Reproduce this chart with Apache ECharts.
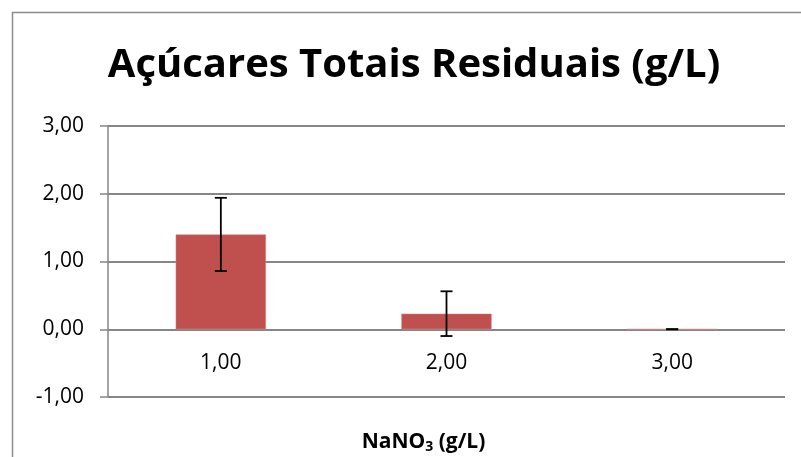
<!DOCTYPE html>
<html>
<head>
<meta charset="utf-8">
<script src="https://cdn.jsdelivr.net/npm/echarts@6/dist/echarts.min.js"></script>
<style>
  html, body { margin: 0; padding: 0; background: #fff; }
  #main { width: 801px; height: 457px; }
</style>
</head>
<body>
<div id="main"></div>
<script>
// dados do gráfico
var categorias = ['1,00', '2,00', '3,00'];
var valores = [1.40, 0.23, 0.00];
var erros = [0.54, 0.33, 0.00];
var yTicks = [-1, 0, 1, 2, 3];

var chart = echarts.init(document.getElementById('main'));

function virgula(v) {
    return v.toFixed(2).replace('.', ',');
}

var option = {
    animation: false,
    title: {
        text: 'Açúcares Totais Residuais (g/L)',
        left: 409,
        textAlign: 'center',
        top: 41,
        textStyle: {
            fontFamily: 'Open Sans',
            fontWeight: 'bold',
            fontSize: 40,
            color: '#000'
        }
    },
    graphic: [{
        type: 'rect',
        shape: {x: 12.5, y: 12.5, width: 820, height: 480},
        style: {fill: 'none', stroke: '#8c8c8c', lineWidth: 1.5},
        silent: true,
        z: -1
    }],
    grid: {
        left: 108,
        right: 16,
        top: 126,
        bottom: 60,
        containLabel: false,
        outerBoundsMode: 'none'
    },
    xAxis: {
        type: 'category',
        data: categorias,
        axisLine: {show: false, onZero: false},
        axisTick: {show: false},
        axisLabel: {
            fontFamily: 'Open Sans',
            fontSize: 21,
            color: '#000',
            margin: -44
        },
        name: '{b|NaNO}{s|3}{b| (g/L)}',
        nameLocation: 'middle',
        nameGap: 34,
        nameTextStyle: {
            padding: [0, 46, 0, 0],
            rich: {
                b: {fontFamily: 'Open Sans', fontWeight: 'bold', fontSize: 21, color: '#000'},
                s: {fontFamily: 'Open Sans', fontWeight: 'bold', fontSize: 14, color: '#000', verticalAlign: 'bottom', padding: [9, 0, 0, 0]}
            }
        }
    },
    yAxis: {
        type: 'value',
        min: yTicks[0],
        max: yTicks[yTicks.length - 1],
        interval: 1,
        axisLine: {show: true, lineStyle: {color: '#868686', width: 1.5}},
        axisTick: {show: true, length: 8, lineStyle: {color: '#868686', width: 1.5}},
        axisLabel: {
            fontFamily: 'Open Sans',
            fontSize: 21,
            color: '#000',
            margin: 24,
            formatter: function (v) { return virgula(v); }
        },
        splitLine: {lineStyle: {color: '#868686', width: 1.8}}
    },
    series: [{
        type: 'bar',
        data: valores,
        barWidth: '40%',
        itemStyle: {color: '#C0504D', borderColor: '#d98a88', borderWidth: 0.5}
    }, {
        type: 'custom',
        data: valores.map(function (v, i) { return [i, v - erros[i], v + erros[i]]; }),
        renderItem: function (params, api) {
            var x = api.coord([api.value(0), 0])[0];
            var lo = api.coord([api.value(0), api.value(1)])[1];
            var hi = api.coord([api.value(0), api.value(2)])[1];
            var w = 6;
            var st = {stroke: '#000', lineWidth: 1.8};
            return {
                type: 'group',
                children: [
                    {type: 'line', shape: {x1: x, y1: lo, x2: x, y2: hi}, style: st},
                    {type: 'line', shape: {x1: x - w, y1: hi, x2: x + w, y2: hi}, style: st},
                    {type: 'line', shape: {x1: x - w, y1: lo, x2: x + w, y2: lo}, style: st}
                ]
            };
        },
        z: 5
    }]
};

chart.setOption(option);
</script>
</body>
</html>
